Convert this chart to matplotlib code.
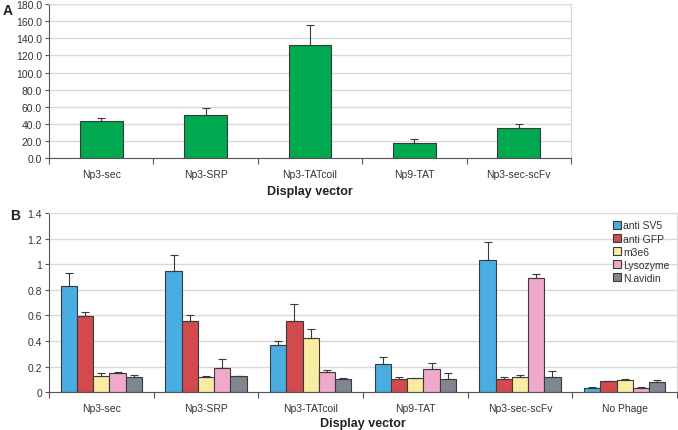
import numpy as np
import matplotlib.pyplot as plt
from matplotlib.ticker import FixedLocator

# panel A
vectors_a = ['Np3-sec', 'Np3-SRP', 'Np3-TATcoil', 'Np9-TAT', 'Np3-sec-scFv']
values_a = [43.2, 49.8, 132.2, 17.5, 35.0]
errors_a = [4.0, 8.5, 24.0, 4.5, 5.0]

# panel B
vectors_b = ['Np3-sec', 'Np3-SRP', 'Np3-TATcoil', 'Np9-TAT', 'Np3-sec-scFv', 'No Phage']
targets = ['anti SV5', 'anti GFP', 'm3e6', 'Lysozyme', 'N.avidin']
anti_sv5 = [0.833, 0.95, 0.37, 0.216, 1.03, 0.031]
anti_sv5_err = [0.097, 0.12, 0.028, 0.06, 0.144, 0.005]
anti_gfp = [0.593, 0.56, 0.56, 0.101, 0.099, 0.086]
anti_gfp_err = [0.037, 0.046, 0.13, 0.019, 0.021, 0.003]
m3e6 = [0.122, 0.117, 0.42, 0.109, 0.117, 0.094]
m3e6_err = [0.029, 0.01, 0.07, 0.005, 0.018, 0.007]
lysozyme = [0.146, 0.19, 0.156, 0.177, 0.89, 0.031]
lysozyme_err = [0.01, 0.068, 0.016, 0.052, 0.034, 0.008]
n_avidin = [0.12, 0.122, 0.099, 0.104, 0.12, 0.078]
n_avidin_err = [0.01, 0.006, 0.015, 0.047, 0.047, 0.013]

series_b = [anti_sv5, anti_gfp, m3e6, lysozyme, n_avidin]
errs_b = [anti_sv5_err, anti_gfp_err, m3e6_err, lysozyme_err, n_avidin_err]
colors_b = ['#4aade2', '#d24a4d', '#f8eca2', '#f0a9c9', '#7f8690']

edge = '#3a3a3a'
grid_c = '#d9d9d9'
txt = '#333333'
plt.rcParams['font.family'] = ['Liberation Sans', 'DejaVu Sans']

fig = plt.figure(figsize=(6.78, 4.31), dpi=100)


def style(ax, n):
    ax.set_xlim(0, n)
    ax.xaxis.set_major_locator(FixedLocator(np.arange(0, n + 1)))
    ax.xaxis.set_minor_locator(FixedLocator(np.arange(n) + 0.5))
    ax.tick_params(axis='x', which='major', length=4, color='#555555', labelbottom=False)
    ax.tick_params(axis='x', which='minor', length=0, labelsize=7.5, colors=txt, pad=8)
    ax.tick_params(axis='y', length=3, color='#555555', labelsize=7.5, labelcolor=txt, pad=2)
    ax.grid(axis='y', color=grid_c, lw=1)
    ax.set_axisbelow(True)
    for s in ['top', 'right']:
        ax.spines[s].set_color(grid_c)
    for s in ['left', 'bottom']:
        ax.spines[s].set_color('#555555')


# ---- A
axa = fig.add_axes([0.0723, 0.631, 0.7697, 0.357])
x = np.arange(len(vectors_a)) + 0.5
axa.bar(x, values_a, width=0.41, color='#00a84f', edgecolor=edge, lw=0.8,
        yerr=[np.zeros(len(errors_a)), errors_a], error_kw=dict(ecolor=edge, elinewidth=0.8, capsize=3, capthick=0.8))
style(axa, len(vectors_a))
axa.set_xticks(x, vectors_a, minor=True)
axa.set_ylim(0, 180)
axa.set_yticks(np.arange(0, 181, 20))
axa.set_yticklabels(['%.1f' % v for v in np.arange(0, 181, 20)])
fig.text(0.4575, 1 - 192 / 431, 'Display vector', fontsize=9, fontweight='bold', color='#222222',
         ha='center', va='center')
fig.text(0.004, 0.965, 'A', fontsize=10, fontweight='bold', color='#222222')

# ---- B
axb = fig.add_axes([0.0723, 0.088, 0.9262, 0.415])
xb = np.arange(len(vectors_b)) + 0.5
w = 0.155
for i, (vals, err, c, lab) in enumerate(zip(series_b, errs_b, colors_b, targets)):
    pos = xb + (i - 2) * w
    axb.bar(pos, vals, width=w, color=c, edgecolor=edge, lw=0.8, label=lab,
            yerr=[np.zeros(len(err)), err], error_kw=dict(ecolor=edge, elinewidth=0.8, capsize=3, capthick=0.8))
style(axb, len(vectors_b))
axb.set_xticks(xb, vectors_b, minor=True)
axb.set_ylim(0, 1.4)
yt = np.arange(0, 1.41, 0.2)
axb.set_yticks(yt)
axb.set_yticklabels(['%g' % round(v, 1) for v in yt])
fig.text(0.5354, 1 - 424 / 431, 'Display vector', fontsize=9, fontweight='bold', color='#222222',
         ha='center', va='center')
fig.text(0.015, 0.49, 'B', fontsize=10, fontweight='bold', color='#222222')
leg = axb.legend(loc='upper right', frameon=False, fontsize=7.5, handlelength=0.8, handleheight=0.8,
                 handletextpad=0.2, labelspacing=0.3, borderaxespad=0.3)
for t in leg.get_texts():
    t.set_color(txt)

fig.savefig('out.png', dpi=100)
